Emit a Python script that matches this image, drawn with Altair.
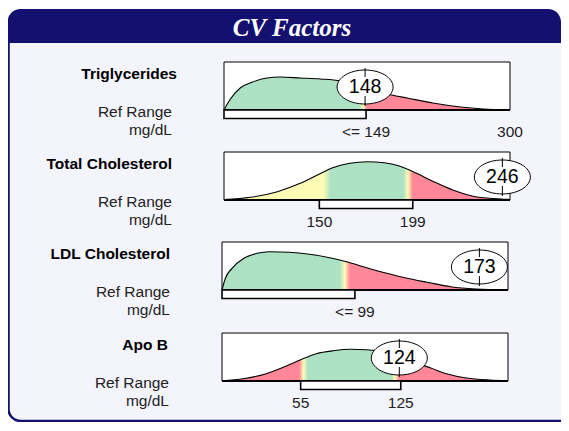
import altair as alt
import pandas as pd

# ---------------- data ----------------
titles = ["Triglycerides", "Total Cholesterol", "LDL Cholesterol", "Apo B"]
domains = [(0, 300), (100, 250), (20, 190), (0, 200)]
ref_lo = [0, 150, 20, 55]
ref_hi = [149, 199, 99, 125]
tick_vals = [[149, 300], [150, 199], [99], [55, 125]]
tick_texts = [["<= 149", "300"], ["150", "199"], ["<= 99"], ["55", "125"]]
results = [148, 246, 173, 124]

# density curve outlines (value, height)
tg_v = [0, 6, 17, 30, 45, 59, 80, 101, 122, 137, 153, 176, 192, 219, 248, 272, 300]
tg_h = [0, 10, 22, 28, 32, 33, 32, 31, 29, 25, 20, 15, 12, 7, 3, 1, 0]

tc_v = [100, 114, 128, 140, 149, 157, 166, 175, 184, 192, 201, 210, 220, 232, 248, 250]
tc_h = [0.5, 2.7, 8.3, 16.7, 25, 32.3, 36.7, 38.3, 37.3, 34, 26.7, 18.3, 10, 3.3, 0.7, 0.5]

ldl_v = [20, 22, 26, 33, 41, 48, 60, 72, 84, 94, 106, 118, 130, 142, 156, 171, 190]
ldl_h = [0, 11.7, 21.7, 31.7, 36.7, 38.3, 37.7, 35.7, 32.3, 28.3, 22.3, 16.7, 11.7, 7.7, 3.3, 1, 0]

apob_v = [0, 15, 31, 45, 55, 66, 78, 90, 101, 113, 125, 136, 146, 157, 171, 187, 200]
apob_h = [0.3, 2.3, 7.3, 15, 21.3, 27.3, 30.3, 31.7, 31.3, 29, 24, 18, 13, 7.3, 3, 1, 0.3]

curves_v = [tg_v, tc_v, ldl_v, apob_v]
curves_h = [tg_h, tc_h, ldl_h, apob_h]

# colour zones along each curve (value, zone)
zone_v = [
    [0, 142, 146.5, 150, 300],
    [100, 152, 156, 194, 196.5, 199, 250],
    [20, 90, 93, 96, 190],
    [0, 54, 57, 60, 118.5, 121, 124, 200],
]
zone_c = [
    ["g", "g", "y", "r", "r"],
    ["y", "y", "g", "g", "y", "r", "r"],
    ["g", "g", "y", "r", "r"],
    ["r", "r", "y", "g", "g", "y", "r", "r"],
]

# ---------------- style / layout ----------------
W, H = 553, 414
OX, OY = 8, 8
NAVY = "#14106f"
BODY = "#f4f4fd"
COL = {"g": "#ade1c3", "y": "#fdfcb6", "r": "#ff8797"}
FONT = "Liberation Sans"
box_left = [224, 224, 222, 222]
box_right = [510, 510, 508, 508]
base_y = [110, 200, 290, 381]
BOX_H = 48
title_right = [177, 172, 170, 168]
sub_right = [172, 172, 170, 169]

ELLIPSE = "M-1,0A1,0.607,0,1,1,1,0A1,0.607,0,1,1,-1,0Z"

one = pd.DataFrame({"k": [0]})

body = alt.Chart(one).mark_rect(
    fill=BODY, stroke=NAVY, strokeWidth=2.5, cornerRadius=12
).encode(x=alt.value(0.5), x2=alt.value(620), y=alt.value(20), y2=alt.value(H - 1))

header = alt.Chart(one).mark_rect(
    fill=NAVY, cornerRadiusTopLeft=13, cornerRadiusTopRight=13
).encode(x=alt.value(-0.5), x2=alt.value(W), y=alt.value(1), y2=alt.value(35))

title = alt.Chart(one).mark_text(
    text="CV Factors", font="Liberation Serif", fontSize=25, fontWeight="bold",
    fontStyle="italic", color="white", align="center", baseline="middle"
).encode(x=alt.value(284), y=alt.value(19.5))

layers = [body, header, title]

for i in range(4):
    layers.append(
        alt.Chart(one).mark_text(
            text=titles[i], font=FONT, fontSize=15.5, fontWeight="bold",
            color="black", align="right", baseline="middle"
        ).encode(x=alt.value(title_right[i] - OX), y=alt.value(base_y[i] - 36.5 - OY))
    )
    layers.append(
        alt.Chart(one).mark_text(
            text="Ref Range", font=FONT, fontSize=15.5, color="#222222",
            align="right", baseline="middle"
        ).encode(x=alt.value(sub_right[i] - OX), y=alt.value(base_y[i] + 2 - OY))
    )
    layers.append(
        alt.Chart(one).mark_text(
            text="mg/dL", font=FONT, fontSize=15.5, color="#222222",
            align="right", baseline="middle"
        ).encode(x=alt.value(sub_right[i] - OX), y=alt.value(base_y[i] + 20 - OY))
    )


def row(i):
    d0, d1 = domains[i]
    xs = alt.Scale(domain=[d0, d1], range=[box_left[i] - OX, box_right[i] - OX])
    ys = alt.Scale(domain=[0, BOX_H], range=[base_y[i] - OY, base_y[i] - OY - BOX_H])

    def X(f):
        return alt.X(f, type="quantitative", scale=xs, axis=None)

    def Y(f):
        return alt.Y(f, type="quantitative", scale=ys, axis=None)

    frame = pd.DataFrame({"a": [d0], "b": [d1], "y0": [0], "y1": [BOX_H]})
    box = alt.Chart(frame).mark_rect(fill="white", stroke="black", strokeWidth=1).encode(
        x=X("a"), x2=alt.X2("b"), y=Y("y0"), y2=alt.Y2("y1"))

    span = d1 - d0
    stops = [alt.GradientStop(color=COL[c], offset=(v - d0) / span)
             for v, c in zip(zone_v[i], zone_c[i])]
    grad = alt.Gradient(gradient="linear", stops=stops, x1=0, x2=1, y1=0, y2=0)

    curve = pd.DataFrame({"v": curves_v[i], "h": curves_h[i]})
    area = alt.Chart(curve).mark_area(color=grad, interpolate="monotone").encode(
        x=X("v"), y=Y("h"))
    line = alt.Chart(curve).mark_line(color="black", strokeWidth=1.1, interpolate="monotone").encode(
        x=X("v"), y=Y("h"))
    base = alt.Chart(frame).mark_rule(color="black", strokeWidth=2).encode(
        x=X("a"), x2=alt.X2("b"), y=Y("y0"))

    rr = pd.DataFrame({"lo": [ref_lo[i]], "hi": [ref_hi[i]], "t": [0], "b": [-8.5]})
    bracket = alt.Chart(rr).mark_rect(fill="white", stroke="black", strokeWidth=1.6).encode(
        x=X("lo"), x2=alt.X2("hi"), y=Y("t"), y2=alt.Y2("b"))

    tl = pd.DataFrame({"v": tick_vals[i], "txt": tick_texts[i], "y": [-22] * len(tick_vals[i])})
    ticklab = alt.Chart(tl).mark_text(font=FONT, fontSize=15.5, color="#222222",
                                      align="center", baseline="middle").encode(
        x=X("v"), y=Y("y"), text="txt:N")

    res = pd.DataFrame({"v": [results[i]], "y": [23], "txt": [str(results[i])],
                        "t0": [33], "t1": [42], "b0": [4], "b1": [14]})
    ell = alt.Chart(res).mark_point(shape=ELLIPSE, size=3136, filled=True, fill="white",
                                    stroke="black", strokeWidth=1, opacity=1).encode(
        x=X("v"), y=Y("y"))
    tk1 = alt.Chart(res).mark_rule(color="black", strokeWidth=1).encode(
        x=X("v"), y=Y("t0"), y2=alt.Y2("t1"))
    tk2 = alt.Chart(res).mark_rule(color="black", strokeWidth=1).encode(
        x=X("v"), y=Y("b0"), y2=alt.Y2("b1"))
    val = alt.Chart(res).mark_text(font=FONT, fontSize=19.5, color="black",
                                   align="center", baseline="middle").encode(
        x=X("v"), y=Y("y"), text="txt:N")

    return alt.layer(box, area, line, base, bracket, ticklab, ell, tk1, tk2, val)


for i in range(4):
    layers.append(row(i))

chart = alt.layer(*layers).resolve_scale(x="independent", y="independent").properties(
    width=W, height=H, autosize="none", padding=0, background="white"
).configure_view(stroke=None)

chart.save("out.html", embed_options={"renderer": "svg", "actions": False})
